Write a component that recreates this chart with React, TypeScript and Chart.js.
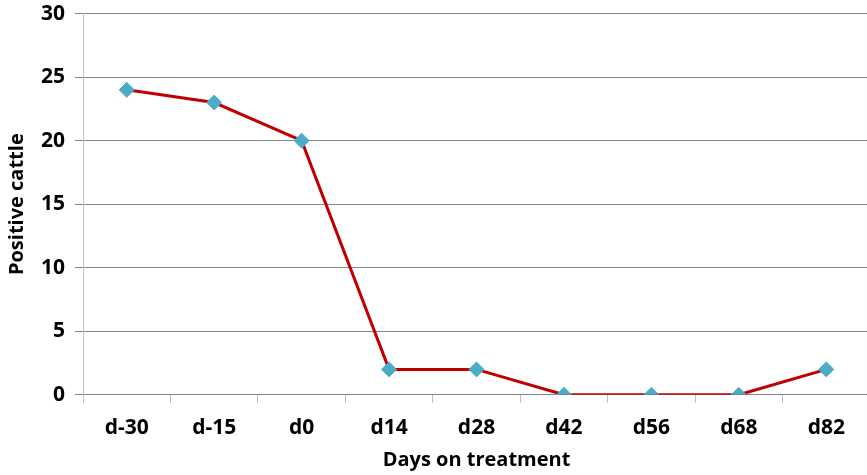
import React, { useEffect, useRef } from "react";
import { Chart, registerables } from "chart.js";

Chart.register(...registerables);

const categories = ["d-30", "d-15", "d0", "d14", "d28", "d42", "d56", "d68", "d82"];
const positiveCattle = [24, 23, 20, 2, 2, 0, 0, 0, 2];
const yTicks = [0, 5, 10, 15, 20, 25, 30];

const FONT = "'Open Sans', 'DejaVu Sans', sans-serif";

export default function App() {
  const ref = useRef<HTMLCanvasElement | null>(null);
  useEffect(() => {
    if (!ref.current) return;
    const chart = new Chart(ref.current, {
      type: "line",
      data: {
        labels: categories,
        datasets: [
          {
            label: "Positive cattle",
            data: positiveCattle,
            borderColor: "#C00000",
            borderWidth: 3,
            pointStyle: "rectRot",
            pointRadius: 7.5,
            pointHoverRadius: 7.5,
            pointBackgroundColor: "#4BACC6",
            pointBorderColor: "#4BACC6",
            pointBorderWidth: 1,
            tension: 0,
          },
        ],
      },
      options: {
        responsive: false,
        animation: false,
        layout: { autoPadding: false, padding: { top: 0, right: 0, bottom: 2, left: 2 } },
        plugins: { legend: { display: false }, tooltip: { enabled: false } },
        scales: {
          x: {
            offset: true,
            grid: {
              offset: true,
              drawOnChartArea: false,
              drawTicks: true,
              tickLength: 8,
              color: "#BFBFBF",
            },
            border: { color: "#868686", width: 1 },
            ticks: {
              color: "#000",
              padding: 13,
              font: { family: FONT, size: 21, weight: "bold" },
            },
            title: {
              display: true,
              text: "Days on treatment",
              color: "#000",
              padding: { top: -6, bottom: 0 },
              font: { family: FONT, size: 20, weight: "bold" },
            },
          },
          y: {
            min: 0,
            max: 30,
            afterBuildTicks: (axis: any) => {
              axis.ticks = yTicks.map((v) => ({ value: v }));
            },
            grid: {
              color: "#868686",
              lineWidth: 1,
              tickLength: 8,
            },
            border: { color: "#BFBFBF", width: 1 },
            ticks: {
              color: "#000",
              padding: 10,
              font: { family: FONT, size: 21, weight: "bold" },
            },
            title: {
              display: true,
              text: "Positive cattle",
              color: "#000",
              padding: { top: 6, bottom: 2 },
              font: { family: FONT, size: 20, weight: "bold" },
            },
          },
        },
      },
    });
    return () => chart.destroy();
  }, []);
  return (
    <div style={{ position: "fixed", left: -3, top: -9, width: 873, height: 483, background: "#fff" }}>
      <canvas ref={ref} width={873} height={483} style={{ display: "block" }} />
    </div>
  );
}
